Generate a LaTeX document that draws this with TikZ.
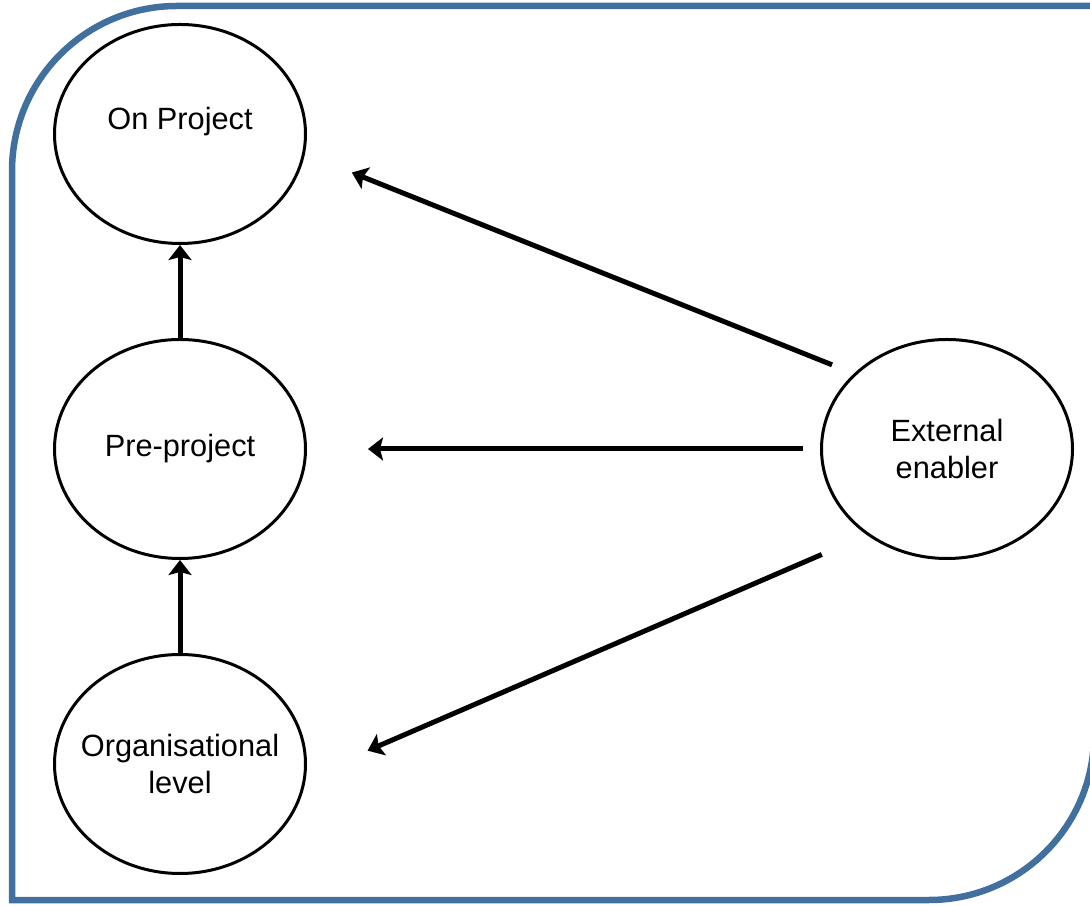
\documentclass[tikz,border=0pt]{standalone}
\usepackage{fontspec}
\setmainfont{Liberation Sans}
\usetikzlibrary{shapes.geometric,arrows.meta}

\definecolor{framecol}{RGB}{66,112,158}

\tikzset{
    stage/.style={ellipse, draw, line width=0.06cm, minimum width=5.02cm, minimum height=4.38cm, inner xsep=-0.8cm, inner ysep=0pt, align=center, font=\fontsize{17.5}{20.5}\selectfont},
    flow/.style={line width=0.1cm, -{Stealth[length=0.3cm, width=0.46cm, inset=0.06cm]}}
}

\begin{document}
\begin{tikzpicture}
                \useasboundingbox (0,0) rectangle (21.8,18.1);
                \begin{scope}
                \clip (0,0) rectangle (21.8,18.1);
                \draw[framecol, line width=0.13cm] (0.24,0.1) -- (0.24,14.68) arc[start angle=180, end angle=90, radius=3.3] -- (21.88,17.98) -- (21.88,3.4) arc[start angle=0, end angle=-90, radius=3.3] -- cycle;
                \end{scope}

                \node[stage] (onproj) at (3.6,15.42) {\raisebox{0.64cm}{On Project}};
                \node[stage] (preproj) at (3.6,9.12) {Pre-project};
                \node[stage] (orglevel) at (3.6,2.82) {Organisational\\level};
                \node[stage] (extenabler) at (18.94,9.12) {External\\enabler};

                \draw[flow] (preproj) -- (onproj);
                \draw[flow] (orglevel) -- (preproj);
                \draw[flow, shorten <=0.47cm, shorten >=1.01cm] (extenabler.141) -- (onproj.-9);
                \draw[flow, shorten <=0.34cm, shorten >=1.22cm] (extenabler.west) -- (preproj.east);
                \draw[flow, shorten <=0.98cm, shorten >=1.34cm] (extenabler.227) -- (orglevel.-6);
            \end{tikzpicture}
\end{document}
